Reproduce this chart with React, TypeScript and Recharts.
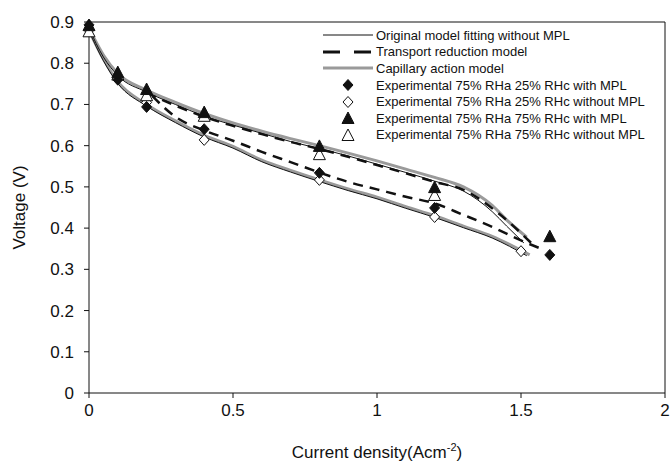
import React from "react";
import {
  ComposedChart,
  Line,
  Scatter,
  XAxis,
  YAxis,
  ReferenceLine,
} from "recharts";

// current density (A/cm2) vs voltage (V)
const currentTicks = [0, 0.5, 1, 1.5, 2];
const voltageTicks = [0, 0.1, 0.2, 0.3, 0.4, 0.5, 0.6, 0.7, 0.8, 0.9];

// model curves, [current, voltage]
const originalUpper = [
  [0, 0.885], [0.05, 0.815], [0.1, 0.77], [0.2, 0.73], [0.3, 0.7], [0.4, 0.672],
  [0.5, 0.65], [0.6, 0.63], [0.7, 0.61], [0.8, 0.593], [0.9, 0.575], [1.0, 0.555],
  [1.1, 0.535], [1.2, 0.514], [1.3, 0.49], [1.4, 0.44], [1.45, 0.405], [1.51, 0.364],
];
const originalLower = [
  [0, 0.878], [0.05, 0.806], [0.1, 0.751], [0.2, 0.696], [0.3, 0.656], [0.4, 0.621],
  [0.5, 0.594], [0.6, 0.561], [0.7, 0.536], [0.8, 0.513], [0.9, 0.491], [1.0, 0.471],
  [1.1, 0.448], [1.2, 0.426], [1.3, 0.401], [1.4, 0.376], [1.52, 0.333],
];
const transportUpper = [
  [0.2, 0.728], [0.3, 0.697], [0.4, 0.67], [0.5, 0.648], [0.6, 0.628], [0.7, 0.609],
  [0.8, 0.592], [0.9, 0.573], [1.0, 0.553], [1.1, 0.533], [1.2, 0.512], [1.3, 0.493],
  [1.42, 0.437], [1.55, 0.354],
];
const transportLower = [
  [0.22, 0.72], [0.3, 0.67], [0.4, 0.637], [0.5, 0.612], [0.6, 0.585], [0.7, 0.56],
  [0.8, 0.535], [0.9, 0.512], [1.0, 0.494], [1.1, 0.476], [1.2, 0.46], [1.3, 0.432],
  [1.4, 0.403], [1.5, 0.37], [1.57, 0.35],
];
const capillaryUpper = [
  [0, 0.885], [0.05, 0.82], [0.1, 0.775], [0.2, 0.735], [0.3, 0.705], [0.4, 0.678],
  [0.5, 0.655], [0.6, 0.635], [0.7, 0.617], [0.8, 0.6], [0.9, 0.582], [1.0, 0.563],
  [1.1, 0.543], [1.2, 0.523], [1.3, 0.5], [1.4, 0.455], [1.45, 0.42], [1.52, 0.378],
];
const capillaryLower = [
  [0, 0.88], [0.05, 0.81], [0.1, 0.755], [0.2, 0.7], [0.3, 0.66], [0.4, 0.625],
  [0.5, 0.598], [0.6, 0.565], [0.7, 0.54], [0.8, 0.517], [0.9, 0.495], [1.0, 0.475],
  [1.1, 0.452], [1.2, 0.43], [1.3, 0.405], [1.4, 0.38], [1.53, 0.335],
];

// measurements
const exp25WithMpl = [
  [0, 0.893], [0.1, 0.76], [0.2, 0.694], [0.4, 0.64], [0.8, 0.534], [1.2, 0.449], [1.6, 0.335],
];
const exp25WithoutMpl = [
  [0, 0.88], [0.1, 0.762], [0.2, 0.705], [0.4, 0.614], [0.8, 0.517], [1.2, 0.427], [1.5, 0.344],
];
const exp75WithMpl = [
  [0, 0.89], [0.1, 0.776], [0.2, 0.735], [0.4, 0.679], [0.8, 0.597], [1.2, 0.497], [1.6, 0.378],
];
const exp75WithoutMpl = [
  [0, 0.875], [0.1, 0.77], [0.2, 0.72], [0.4, 0.67], [0.8, 0.577], [1.2, 0.478],
];

const toPoints = (pairs: number[][]) => pairs.map(([c, v]) => ({ c, v }));

const GRAY = "#9a9a9a";
const FONT = "'Liberation Sans', Arial, sans-serif";

const Diamond = ({ cx, cy, filled }: any) => (
  <polygon
    points={`${cx},${cy - 5.5} ${cx + 5},${cy} ${cx},${cy + 5.5} ${cx - 5},${cy}`}
    fill={filled ? "#111" : "#fff"}
    stroke="#111"
    strokeWidth={1}
  />
);

const Triangle = ({ cx, cy, filled }: any) => (
  <polygon
    points={`${cx},${cy - 7} ${cx + 6},${cy + 4.5} ${cx - 6},${cy + 4.5}`}
    fill={filled ? "#111" : "#fff"}
    stroke="#111"
    strokeWidth={1}
  />
);

const legendRows = [
  { label: "Original model fitting without MPL", kind: "solid" },
  { label: "Transport reduction model", kind: "dashed" },
  { label: "Capillary action model", kind: "gray" },
  { label: "Experimental 75% RHa 25% RHc with MPL", kind: "diamondFilled" },
  { label: "Experimental 75% RHa 25% RHc without MPL", kind: "diamondOpen" },
  { label: "Experimental 75% RHa 75% RHc with MPL", kind: "triangleFilled" },
  { label: "Experimental 75% RHa 75% RHc without MPL", kind: "triangleOpen" },
];

const LegendSample = ({ kind }: { kind: string }) => {
  switch (kind) {
    case "solid":
      return <line x1={3} x2={53} y1={8} y2={8} stroke="#111" strokeWidth={1} />;
    case "dashed":
      return (
        <line x1={3} x2={51} y1={8} y2={8} stroke="#111" strokeWidth={3} strokeDasharray="17 14" />
      );
    case "gray":
      return <line x1={3} x2={53} y1={8} y2={8} stroke={GRAY} strokeWidth={3} />;
    case "diamondFilled":
      return <Diamond cx={28} cy={8} filled />;
    case "diamondOpen":
      return <Diamond cx={28} cy={8} />;
    case "triangleFilled":
      return <Triangle cx={28} cy={9} filled />;
    default:
      return <Triangle cx={28} cy={9} />;
  }
};

const ModelLegend = () => (
  <div
    style={{
      position: "absolute",
      top: 27,
      left: 320,
      fontFamily: FONT,
      fontSize: 13,
      color: "#111",
      pointerEvents: "none",
    }}
  >
    {legendRows.map((row) => (
      <div key={row.label} style={{ display: "flex", alignItems: "center", height: 16.6 }}>
        <svg width={56} height={16} style={{ flex: "none" }}>
          <LegendSample kind={row.kind} />
        </svg>
        <span style={{ whiteSpace: "nowrap" }}>{row.label}</span>
      </div>
    ))}
  </div>
);

const XTitle = ({ viewBox }: any) => {
  const cx = viewBox.x + viewBox.width / 2;
  return (
    <text x={cx} y={458} textAnchor="middle" fontFamily={FONT} fontSize={17} fill="#111">
      Current density(Acm
      <tspan fontSize={11} dy={-7}>-2</tspan>
      <tspan dy={7}>)</tspan>
    </text>
  );
};

export default function App() {
  return (
    <div style={{ position: "absolute", left: 0, top: 0, width: 670, height: 464, background: "#fff" }}>
      <ComposedChart
        width={670}
        height={464}
        margin={{ top: 22, right: 5, bottom: 21, left: 0 }}
      >
        <XAxis
          dataKey="c"
          type="number"
          domain={[0, 2]}
          ticks={currentTicks}
          allowDuplicatedCategory={false}
          height={50}
          stroke="#111"
          tickSize={5}
          tickMargin={6}
          tick={{ fill: "#111", fontSize: 17, fontFamily: FONT }}
          label={<XTitle />}
        />
        <YAxis
          dataKey="v"
          type="number"
          domain={[0, 0.9]}
          ticks={voltageTicks}
          width={89}
          stroke="#111"
          tickSize={5}
          tickMargin={10}
          tick={{ fill: "#111", fontSize: 17, fontFamily: FONT }}
          label={{
            value: "Voltage (V)",
            angle: -90,
            position: "insideLeft",
            offset: 19,
            style: { fill: "#111", fontSize: 17, fontFamily: FONT, textAnchor: "middle" },
          }}
        />
        <ReferenceLine y={0.9} stroke="#111" />
        <ReferenceLine x={2} stroke="#111" />

        <Line data={toPoints(capillaryUpper)} dataKey="v" type="monotone" stroke={GRAY} strokeWidth={3} dot={false} isAnimationActive={false} />
        <Line data={toPoints(capillaryLower)} dataKey="v" type="monotone" stroke={GRAY} strokeWidth={3} dot={false} isAnimationActive={false} />
        <Line data={toPoints(originalUpper)} dataKey="v" type="monotone" stroke="#111" strokeWidth={1} dot={false} isAnimationActive={false} />
        <Line data={toPoints(originalLower)} dataKey="v" type="monotone" stroke="#111" strokeWidth={1} dot={false} isAnimationActive={false} />
        <Line data={toPoints(transportUpper)} dataKey="v" type="monotone" stroke="#111" strokeWidth={2.5} strokeDasharray="10 7" dot={false} isAnimationActive={false} />
        <Line data={toPoints(transportLower)} dataKey="v" type="monotone" stroke="#111" strokeWidth={2.5} strokeDasharray="10 7" dot={false} isAnimationActive={false} />

        <Scatter data={toPoints(exp25WithoutMpl)} dataKey="v" shape={(p: any) => <Diamond cx={p.cx} cy={p.cy} />} isAnimationActive={false} />
        <Scatter data={toPoints(exp75WithoutMpl)} dataKey="v" shape={(p: any) => <Triangle cx={p.cx} cy={p.cy} />} isAnimationActive={false} />
        <Scatter data={toPoints(exp25WithMpl)} dataKey="v" shape={(p: any) => <Diamond cx={p.cx} cy={p.cy} filled />} isAnimationActive={false} />
        <Scatter data={toPoints(exp75WithMpl)} dataKey="v" shape={(p: any) => <Triangle cx={p.cx} cy={p.cy} filled />} isAnimationActive={false} />
      </ComposedChart>
      <ModelLegend />
    </div>
  );
}
